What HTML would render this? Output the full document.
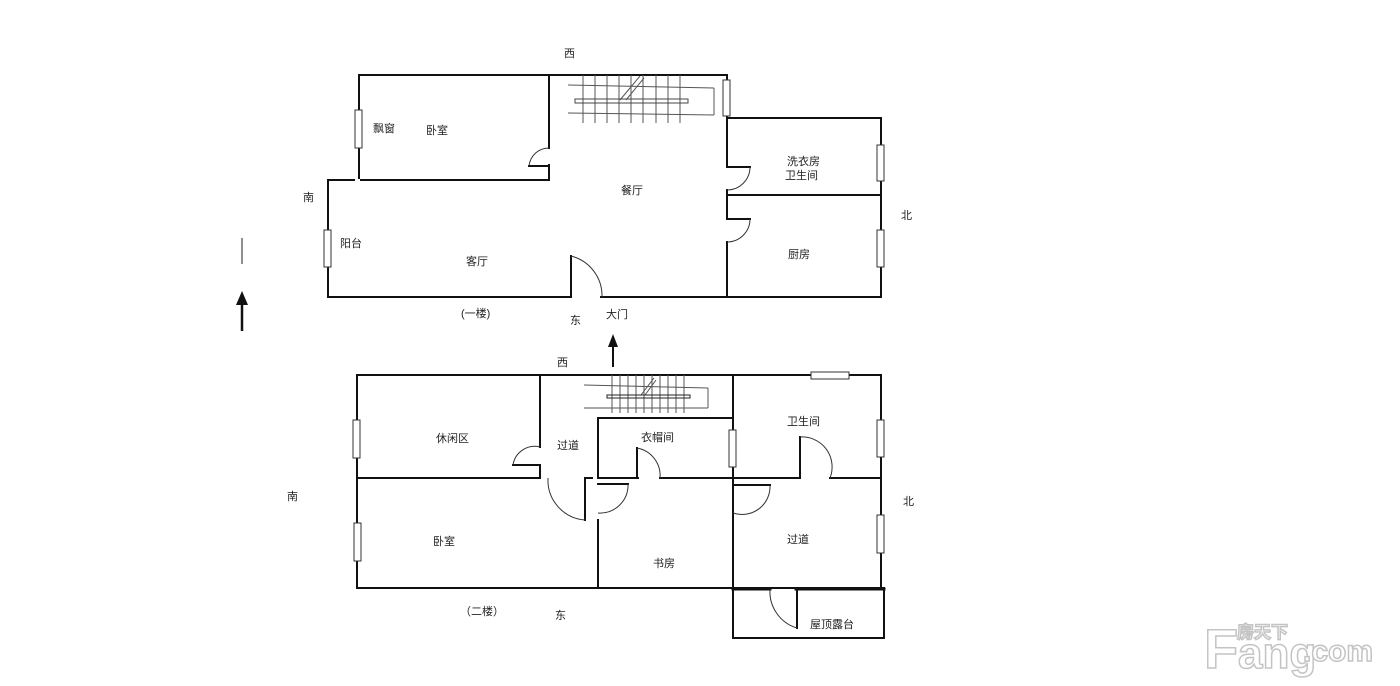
<!DOCTYPE html>
<html><head><meta charset="utf-8"><style>
html,body{margin:0;padding:0;background:#fff;}
svg{display:block;}
text{font-family:"Liberation Sans","Noto Sans CJK SC",sans-serif;font-size:11px;fill:#222;}
</style></head><body>
<svg width="1400" height="686" viewBox="0 0 1400 686" xmlns="http://www.w3.org/2000/svg">
<g stroke="#111" stroke-width="2" fill="none" stroke-linecap="square">
<line x1="359" y1="75" x2="727" y2="75"/>
<line x1="359" y1="75" x2="359" y2="178"/>
<line x1="361" y1="180" x2="549" y2="180"/>
<line x1="549" y1="75" x2="549" y2="148"/>
<line x1="549" y1="165" x2="549" y2="180"/>
<line x1="328" y1="180" x2="354" y2="180"/>
<line x1="328" y1="180" x2="328" y2="297"/>
<line x1="328" y1="297" x2="570" y2="297"/>
<line x1="601" y1="297" x2="881" y2="297"/>
<line x1="571" y1="256" x2="571" y2="297"/>
<line x1="727" y1="75" x2="727" y2="166"/>
<line x1="727" y1="190" x2="727" y2="217"/>
<line x1="727" y1="242" x2="727" y2="297"/>
<line x1="727" y1="118" x2="881" y2="118"/>
<line x1="727" y1="195" x2="881" y2="195"/>
<line x1="881" y1="118" x2="881" y2="297"/>
<line x1="529" y1="166" x2="549" y2="166"/>
<line x1="727" y1="167" x2="750" y2="167"/>
<line x1="727" y1="219" x2="750" y2="219"/>
<line x1="357" y1="375" x2="881" y2="375"/>
<line x1="357" y1="375" x2="357" y2="588"/>
<line x1="357" y1="588" x2="733" y2="588"/>
<line x1="540" y1="375" x2="540" y2="447"/>
<line x1="540" y1="465" x2="540" y2="478"/>
<line x1="357" y1="478" x2="540" y2="478"/>
<line x1="513" y1="465" x2="540" y2="465"/>
<line x1="598" y1="418" x2="733" y2="418"/>
<line x1="598" y1="418" x2="598" y2="478"/>
<line x1="585" y1="478" x2="585" y2="520"/>
<line x1="585" y1="478" x2="592" y2="478"/>
<line x1="598" y1="478" x2="638" y2="478"/>
<line x1="660" y1="478" x2="733" y2="478"/>
<line x1="637" y1="448" x2="637" y2="478"/>
<line x1="598" y1="484" x2="628" y2="484"/>
<line x1="598" y1="520" x2="598" y2="588"/>
<line x1="733" y1="375" x2="733" y2="588"/>
<line x1="733" y1="478" x2="800" y2="478"/>
<line x1="830" y1="478" x2="881" y2="478"/>
<line x1="800" y1="437" x2="800" y2="478"/>
<line x1="733" y1="485" x2="770" y2="485"/>
<line x1="881" y1="375" x2="881" y2="588"/>
<rect x="733" y="588" width="151" height="50"/>
<line x1="733" y1="589" x2="770" y2="589" stroke-width="3"/>
<line x1="796" y1="589" x2="884" y2="589" stroke-width="3"/>
<line x1="797" y1="589" x2="797" y2="628"/>
</g>
<g stroke="#333" stroke-width="1" fill="none">
<path d="M529 166 A20 20 0 0 1 549 148"/>
<path d="M571 256 A41 41 0 0 1 602 297"/>
<path d="M750 167 A23 23 0 0 1 727 190"/>
<path d="M750 219 A23 23 0 0 1 727 242"/>
<path d="M513 465 A22 22 0 0 1 540 447"/>
<path d="M585 520 A40 40 0 0 1 548 478"/>
<path d="M637 448 A28 28 0 0 1 660 478"/>
<path d="M628 484 A28 28 0 0 1 598 513"/>
<path d="M800 437 A30 30 0 0 1 830 478"/>
<path d="M770 485 A28 28 0 0 1 733 513"/>
<path d="M797 628 A38 38 0 0 1 770 589"/>
</g>
<g stroke="#333" stroke-width="1" fill="#fff">
<rect x="355" y="110" width="7" height="38"/>
<rect x="324" y="230" width="7" height="37"/>
<rect x="723" y="80" width="7" height="36"/>
<rect x="877" y="145" width="7" height="36"/>
<rect x="877" y="230" width="7" height="37"/>
<rect x="353" y="420" width="7" height="38"/>
<rect x="354" y="523" width="7" height="38"/>
<rect x="811" y="372" width="38" height="7"/>
<rect x="729" y="430" width="7" height="37"/>
<rect x="877" y="420" width="7" height="37"/>
<rect x="877" y="515" width="7" height="38"/>
</g>
<g stroke="#555" stroke-width="1" fill="none">
<line x1="568" y1="85" x2="714" y2="88"/><line x1="714" y1="88" x2="714" y2="115"/><line x1="568" y1="113" x2="714" y2="115"/>
<line x1="583" y1="75" x2="583" y2="123"/><line x1="595" y1="75" x2="595" y2="123"/><line x1="607" y1="75" x2="607" y2="123"/><line x1="619" y1="75" x2="619" y2="123"/><line x1="631" y1="75" x2="631" y2="123"/><line x1="643" y1="75" x2="643" y2="123"/><line x1="656" y1="75" x2="656" y2="123"/><line x1="668" y1="75" x2="668" y2="123"/><line x1="680" y1="75" x2="680" y2="123"/>
<line x1="620" y1="100" x2="640" y2="76"/><line x1="626" y1="100" x2="644" y2="78"/>
<rect x="575" y="99" width="113" height="4" stroke="#444"/>
<line x1="584" y1="385" x2="708" y2="388"/><line x1="708" y1="388" x2="708" y2="408"/><line x1="584" y1="408" x2="708" y2="408"/>
<line x1="612" y1="375" x2="612" y2="413"/><line x1="620" y1="375" x2="620" y2="413"/><line x1="628" y1="375" x2="628" y2="413"/><line x1="636" y1="375" x2="636" y2="413"/><line x1="644" y1="375" x2="644" y2="413"/><line x1="652" y1="375" x2="652" y2="413"/><line x1="660" y1="375" x2="660" y2="413"/><line x1="668" y1="375" x2="668" y2="413"/><line x1="676" y1="375" x2="676" y2="413"/><line x1="684" y1="375" x2="684" y2="413"/>
<line x1="641" y1="395" x2="654" y2="378"/><line x1="645" y1="395" x2="656" y2="380"/>
<rect x="607" y="395" width="83" height="3" stroke="#222"/>
<line x1="242" y1="238" x2="242" y2="264" stroke="#222"/>
</g>
<g stroke="#111" stroke-width="2.5" fill="#111">
<line x1="242" y1="302" x2="242" y2="331"/>
<polygon points="242,291 236,305 248,305" stroke="none"/>
<line x1="613" y1="345" x2="613" y2="367" stroke-width="2"/>
<polygon points="613,334 608,347 618,347" stroke="none"/>
</g>
<text x="564" y="57">西</text>
<text x="303" y="201">南</text>
<text x="901" y="219">北</text>
<text x="570" y="324">东</text>
<text x="606" y="318">大门</text>
<text x="461" y="317">(一楼)</text>
<text x="373" y="132">飘窗</text>
<text x="426" y="134">卧室</text>
<text x="621" y="194">餐厅</text>
<text x="787" y="165">洗衣房</text>
<text x="785" y="179">卫生间</text>
<text x="340" y="247">阳台</text>
<text x="466" y="265">客厅</text>
<text x="788" y="258">厨房</text>
<text x="557" y="366">西</text>
<text x="287" y="500">南</text>
<text x="903" y="505">北</text>
<text x="555" y="619">东</text>
<text x="460" y="615">（二楼）</text>
<text x="436" y="442">休闲区</text>
<text x="557" y="449">过道</text>
<text x="641" y="441">衣帽间</text>
<text x="787" y="425">卫生间</text>
<text x="433" y="545">卧室</text>
<text x="653" y="567">书房</text>
<text x="787" y="543">过道</text>
<text x="810" y="628">屋顶露台</text>
<g stroke="#c4c4c4" stroke-width="1.5">
<text x="1204" y="668" style="font-size:56px;fill:#fff;font-family:'Liberation Sans',sans-serif;font-weight:bold">F</text>
<text x="1238" y="668" style="font-size:44px;fill:#fff;font-family:'Liberation Sans',sans-serif;font-weight:bold">ang</text>
<text x="1303" y="661" style="font-size:30px;fill:#fff;font-family:'Liberation Sans',sans-serif;font-weight:bold">.com</text>
<text x="1237" y="638" style="font-size:17px;fill:#fff;font-family:'Noto Sans CJK SC',sans-serif;font-weight:bold">房天下</text>
</g>
</svg>
</body></html>
